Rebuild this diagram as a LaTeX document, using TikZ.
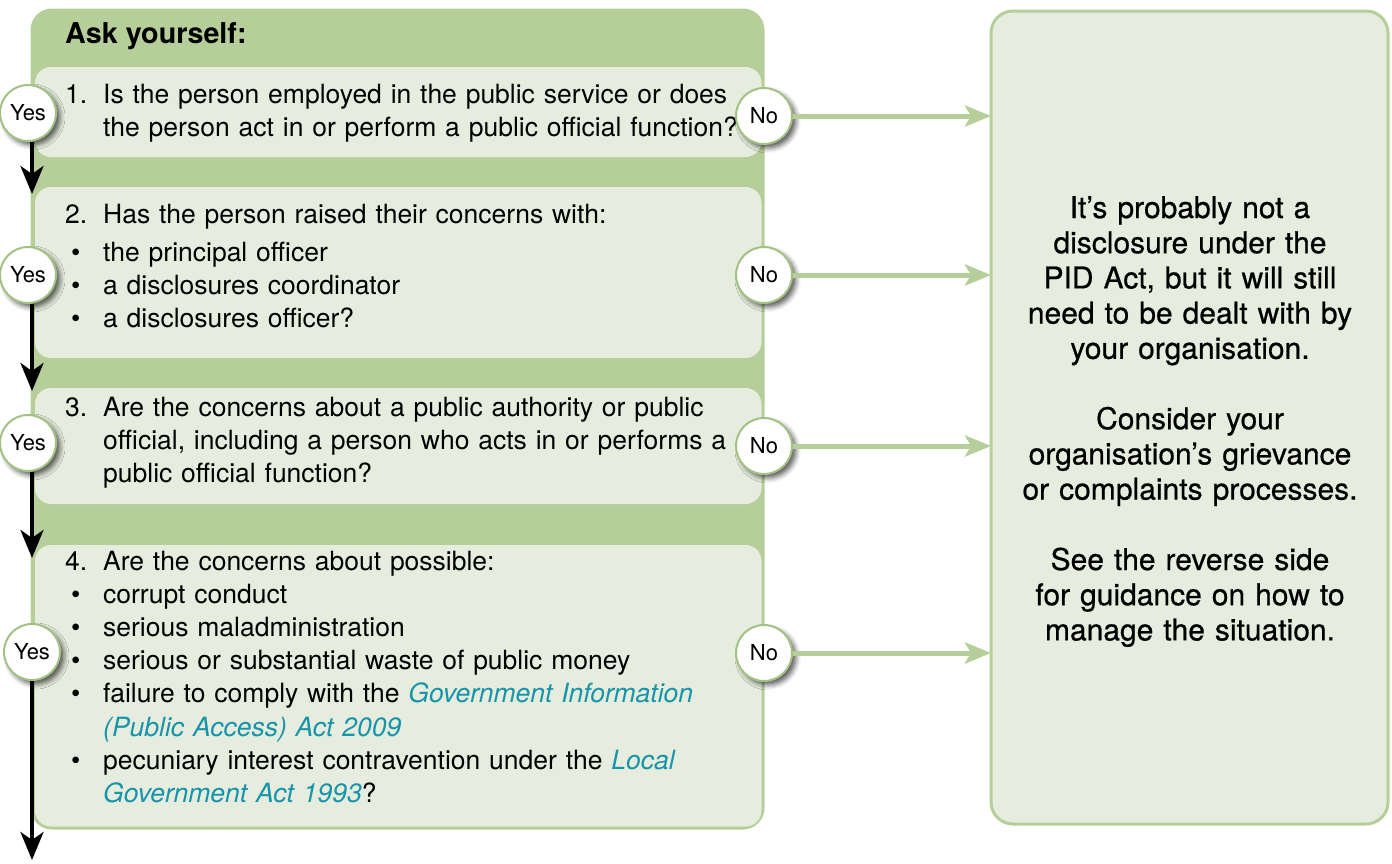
\documentclass[tikz,border=0pt]{standalone}
\usepackage{fontspec}
\usepackage{xcolor}
\setmainfont{TeX Gyre Heros}
\newfontfamily\mediumfont[FakeBold=0.6]{TeX Gyre Heros}
\usetikzlibrary{shapes,arrows.meta,positioning,calc,shadows.blur}
\definecolor{askgreen}{RGB}{181,206,154}
\definecolor{palegreen}{RGB}{230,237,222}
\definecolor{ringgreen}{RGB}{163,192,133}
\definecolor{linkteal}{RGB}{22,148,170}

% numbers, bullets and act names in the question lists
\newcommand{\qnum}[1]{\makebox[38pt][l]{#1}}
\newcommand{\qdot}{\makebox[38pt][l]{\hspace{6pt}\textbullet}}
\newcommand{\qgap}{\hspace*{38pt}}
\newcommand{\actname}[1]{\textcolor{linkteal}{\textit{#1}}}

\begin{document}
\begin{tikzpicture}[x=1pt, y=-1pt,
	qbox/.style={fill=palegreen, rounded corners=16pt, inner sep=0pt, outer sep=0pt, anchor=north west, minimum width=726.5pt},
	qtext/.style={anchor=base west, inner sep=0pt, text width=700pt, align=left, font=\fontsize{26.5}{33.2}\selectfont},
	answer/.style={circle, draw=ringgreen, line width=2pt, fill=white, minimum size=56pt, inner sep=0pt, font=\fontsize{22}{22}\selectfont,
		blur shadow={shadow xshift=4pt, shadow yshift=-4pt, shadow blur radius=5pt, shadow opacity=65}},
	yesarrow/.style={line width=4pt, -{Stealth[length=28pt, width=23pt, inset=8pt]}},
	noarrow/.style={askgreen, line width=5pt, -{Stealth[length=26pt, width=21pt, inset=6pt]}}]
				\useasboundingbox (0,0) rectangle (1392,863);
				
				% Question frame
				\node[fill=askgreen, draw=askgreen, line width=3pt, rounded corners=20pt, inner sep=0pt, outer sep=0pt, anchor=north west, minimum width=731pt, minimum height=818pt] (frame) at (32,10) {};
				\node[anchor=base west, inner sep=0pt, font=\fontsize{28.7}{30}\selectfont\bfseries] (asktitle) at (65,43) {Ask yourself:};
				
				% Question boxes
				\node[qbox, minimum height=90pt] (q1) at (35,67) {};
				\node[qbox, minimum height=171pt] (q2) at (35,187) {};
				\node[qbox, minimum height=116pt] (q3) at (35,388) {};
				\node[qbox, minimum height=281.5pt] (q4) at (35,545) {};
				
				% Questions
				\node[qtext] (q1text) at (65,103) {\qnum{1.}Is the person employed in the public service or does\\
					\qgap the person act in or perform a public official function?};
				\node[qtext] (q2text) at (65,223) {\qnum{2.}Has the person raised their concerns with:\\[5pt]
					\qdot the principal officer\\
					\qdot a disclosures coordinator\\
					\qdot a disclosures officer?};
				\node[qtext] (q3text) at (65,416) {\qnum{3.}Are the concerns about a public authority or public\\
					\qgap official, including a person who acts in or performs a\\
					\qgap public official function?};
				\node[qtext] (q4text) at (65,570) {\qnum{4.}Are the concerns about possible:\\
					\qdot corrupt conduct\\
					\qdot serious maladministration\\
					\qdot serious or substantial waste of public money\\
					\qdot failure to comply with the \actname{Government Information}\\
					\qgap\actname{(Public Access) Act 2009}\\
					\qdot pecuniary interest contravention under the \actname{Local}\\
					\qgap\actname{Government Act 1993}?};
				
				% Outcome box
				\node[fill=palegreen, draw=askgreen, line width=3pt, rounded corners=22pt, inner sep=0pt, outer sep=0pt, anchor=north west, minimum width=397pt, minimum height=813pt] (verdict) at (991,11) {};
				\node[anchor=base, inner sep=0pt, text width=390pt, align=center, font=\mediumfont\fontsize{30}{35.2}\selectfont] (verdicttext) at (1190,218) {It’s probably not a\\
					disclosure under the\\
					PID Act, but it will still\\
					need to be dealt with by\\
					your organisation.\\[35.2pt]
					Consider your\\
					organisation’s grievance\\
					or complaints processes.\\[35.2pt]
					See the reverse side\\
					for guidance on how to\\
					manage the situation.};
				
				% Yes / No answers
				\node[answer] (yes1) at (28,113) {Yes};
				\node[answer] (yes2) at (28,275) {Yes};
				\node[answer] (yes3) at (28,443) {Yes};
				\node[answer] (yes4) at (32,652) {Yes};
				\node[answer] (no1) at (764,116) {No};
				\node[answer] (no2) at (764,275) {No};
				\node[answer] (no3) at (764,446) {No};
				\node[answer] (no4) at (764,653) {No};
				
				% Connections
				\coordinate (in2) at (32,194);
				\coordinate (in3) at (32,391);
				\coordinate (in4) at (32,558);
				\coordinate (out) at (32,860);
				\draw[yesarrow] (yes1.south -| in2) -- (in2);
				\draw[yesarrow] (yes2.south -| in3) -- (in3);
				\draw[yesarrow] (yes3.south -| in4) -- (in4);
				\draw[yesarrow] (yes4.south) -- (out);
				\draw[noarrow] (no1) -- (no1 -| verdict.west);
				\draw[noarrow] (no2) -- (no2 -| verdict.west);
				\draw[noarrow] (no3) -- (no3 -| verdict.west);
				\draw[noarrow] (no4) -- (no4 -| verdict.west);
			\end{tikzpicture}
\end{document}
